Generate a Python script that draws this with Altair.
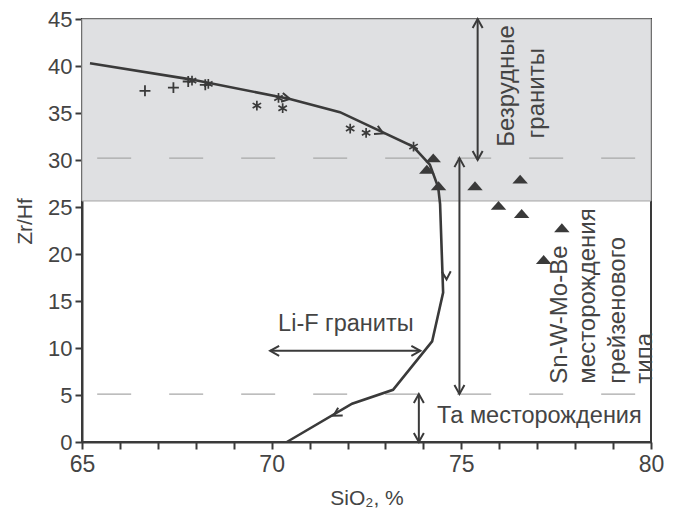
import math
import altair as alt
import pandas as pd

# ---------------- data ----------------
curve_sio2 = [65.21, 67.86, 70.48, 71.80, 73.73, 74.17, 74.39, 74.44, 74.52, 74.23, 73.20, 72.12, 70.40]
curve_zrhf = [40.30, 38.58, 36.50, 35.09, 31.43, 29.51, 27.10, 25.30, 15.90, 10.70, 5.55, 4.08, 0.00]

plus_sio2 = [66.66, 67.41, 67.80, 68.25]
plus_zrhf = [37.36, 37.70, 38.35, 38.00]

star_sio2 = [67.90, 68.33, 69.61, 70.18, 70.29, 72.07, 72.49, 73.74]
star_zrhf = [38.45, 38.10, 35.79, 36.60, 35.51, 33.35, 32.89, 31.43]

tri_sio2 = [74.26, 74.09, 74.40, 75.36, 76.55, 75.98, 76.59, 77.65, 77.17]
tri_zrhf = [30.21, 28.99, 27.24, 27.24, 27.94, 25.15, 24.28, 22.78, 19.39]

chev_sio2 = [70.48, 72.94, 74.61, 71.63]
chev_zrhf = [36.50, 32.83, 17.30, 2.80]

varrow_sio2 = [75.43, 74.95, 73.88]
varrow_top = [45.0, 30.2, 5.1]
varrow_bottom = [30.0, 5.1, 0.0]
harrow_zrhf = [9.7]
harrow_left = [69.96]
harrow_right = [73.92]

shade_bottom = 25.64
dash_levels = [30.2, 5.1]

labels_text = ["Безрудные", "граниты", "Sn-W-Mo-Be", "месторождения", "грейзенового", "типа"]
labels_sio2 = [76.20, 77.00, 77.60, 78.35, 79.12, 79.84]
labels_zrhf = [31.40, 32.30, 6.20, 6.20, 6.20, 6.20]

htext = ["Li-F граниты", "Та месторождения"]
htext_sio2 = [70.17, 74.36]
htext_zrhf = [12.56, 2.77]

x_ticks = list(range(65, 81))
y_ticks = list(range(0, 46, 5))
X_DOM = [65, 80]
Y_DOM = [0, 45]

# ---------------- layout ----------------
W, H = 569, 423
TOP = 11
FONT = "Liberation Sans"
INK = "#3a3a3a"
TXT = "#444444"

xs = alt.Scale(domain=X_DOM, nice=False, zero=False)
ys = alt.Scale(domain=Y_DOM, nice=False, zero=False)

x_axis = alt.Axis(values=x_ticks, labelExpr="datum.value % 5 == 0 ? datum.label : ''",
                  grid=False, tickSize=7, tickWidth=2, tickColor=INK,
                  domainColor=INK, domainWidth=2, labelFontSize=23, labelFont=FONT,
                  labelColor=TXT, labelPadding=4, labelFlush=False,
                  titleFont=FONT, titleFontSize=21, titleFontWeight="normal",
                  titleColor=TXT, titleY=56, titleBaseline="middle")
y_axis = alt.Axis(values=y_ticks, grid=False, tickSize=7, tickWidth=2, tickColor=INK,
                  domainColor=INK, domainWidth=2, labelFontSize=22, labelFont=FONT,
                  labelColor=TXT, labelPadding=3,
                  titleFont=FONT, titleFontSize=21, titleFontWeight="normal",
                  titleColor=TXT, titleAngle=270, titleX=-57, titleY=202,
                  titleBaseline="middle", titleAlign="center")

CHEV = "M-1,1.8L0,0L1,1.8"
PLUS = "M-1,0L1,0M0,-1L0,1"
STAR = "M0,-1L0,1M-0.87,-0.5L0.87,0.5M-0.87,0.5L0.87,-0.5"
TRI = "M-1,0.55L1,0.55L0,-0.6Z"

def X(f="sio2"):
    return alt.X(f"{f}:Q", scale=xs, axis=x_axis, title="SiO₂, %")

def Y(f="zrhf"):
    return alt.Y(f"{f}:Q", scale=ys, axis=y_axis, title="Zr/Hf")

# background shaded band
shade = alt.Chart(pd.DataFrame({"a": [X_DOM[0]], "b": [X_DOM[1]],
                                "zrhf": [shade_bottom], "top": [Y_DOM[1]]})).mark_rect(
    color="#dfe0e2", stroke="#a5a5a5", strokeWidth=1
).encode(x=X("a"), x2="b:Q", y=Y(), y2="top:Q")

dashes = alt.Chart(pd.DataFrame({"zrhf": dash_levels, "a": [65.4, 65.4], "b": [79.9, 79.9]})).mark_rule(
    color="#a8a8a8", strokeWidth=1.3, strokeDash=[34, 38]
).encode(x=X("a"), x2="b:Q", y=Y())

curve_df = pd.DataFrame({"sio2": curve_sio2, "zrhf": curve_zrhf, "o": range(len(curve_sio2))})
curve = alt.Chart(curve_df).mark_line(color=INK, strokeWidth=2.6).encode(
    x=X(), y=Y(), order="o:Q")

# chevron direction along the curve
px_x = W / (X_DOM[1] - X_DOM[0])
px_y = H / (Y_DOM[1] - Y_DOM[0])

def seg_angle(sx, sy):
    best, ang = 1e9, 0
    for i in range(len(curve_sio2) - 1):
        x0, y0 = curve_sio2[i] * px_x, -curve_zrhf[i] * px_y
        x1, y1 = curve_sio2[i + 1] * px_x, -curve_zrhf[i + 1] * px_y
        px, py = sx * px_x, -sy * px_y
        dx, dy = x1 - x0, y1 - y0
        t = max(0, min(1, ((px - x0) * dx + (py - y0) * dy) / (dx * dx + dy * dy)))
        d = math.hypot(x0 + t * dx - px, y0 + t * dy - py)
        if d < best:
            best = d
            ang = (math.degrees(math.atan2(dy, dx)) + 90) % 360
    return ang

chev_df = pd.DataFrame({"sio2": chev_sio2, "zrhf": chev_zrhf,
                        "ang": [seg_angle(a, b) for a, b in zip(chev_sio2, chev_zrhf)]})
chevrons = alt.Chart(chev_df).mark_point(shape=CHEV, filled=False, color=INK, strokeWidth=2,
                                         size=80, opacity=1).encode(
    x=X(), y=Y(), angle=alt.Angle("ang:Q", scale=None))

plus = alt.Chart(pd.DataFrame({"sio2": plus_sio2, "zrhf": plus_zrhf})).mark_point(
    shape=PLUS, filled=False, color=INK, strokeWidth=1.8, size=120, opacity=1).encode(x=X(), y=Y())
star = alt.Chart(pd.DataFrame({"sio2": star_sio2, "zrhf": star_zrhf})).mark_point(
    shape=STAR, filled=False, color=INK, strokeWidth=1.7, size=95, opacity=1).encode(x=X(), y=Y())
tri = alt.Chart(pd.DataFrame({"sio2": tri_sio2, "zrhf": tri_zrhf})).mark_point(
    shape=TRI, filled=True, color=INK, size=240, opacity=1).encode(x=X(), y=Y())

# arrows
va_df = pd.DataFrame({"sio2": varrow_sio2, "zrhf": varrow_top, "b": varrow_bottom})
va = alt.Chart(va_df).mark_rule(color=INK, strokeWidth=2).encode(x=X(), y=Y(), y2="b:Q")
ha_df = pd.DataFrame({"zrhf": harrow_zrhf, "sio2": harrow_left, "r": harrow_right})
ha = alt.Chart(ha_df).mark_rule(color=INK, strokeWidth=2).encode(x=X(), x2="r:Q", y=Y())

heads_x, heads_y, heads_a = [], [], []
for s, t, b in zip(varrow_sio2, varrow_top, varrow_bottom):
    heads_x += [s, s]; heads_y += [t, b]; heads_a += [0, 180]
for z, l, r in zip(harrow_zrhf, harrow_left, harrow_right):
    heads_x += [l, r]; heads_y += [z, z]; heads_a += [270, 90]
heads = alt.Chart(pd.DataFrame({"sio2": heads_x, "zrhf": heads_y, "ang": heads_a})).mark_point(
    shape=CHEV, filled=False, color=INK, strokeWidth=2, size=100, opacity=1).encode(
    x=X(), y=Y(), angle=alt.Angle("ang:Q", scale=None))

vtext = alt.Chart(pd.DataFrame({"sio2": labels_sio2, "zrhf": labels_zrhf, "t": labels_text})).mark_text(
    angle=270, align="left", baseline="middle", font=FONT, fontSize=24, color=TXT).encode(
    x=X(), y=Y(), text="t:N")
htx = alt.Chart(pd.DataFrame({"sio2": htext_sio2, "zrhf": htext_zrhf, "t": htext})).mark_text(
    align="left", baseline="middle", font=FONT, fontSize=23.5, color=TXT).encode(
    x=X(), y=Y(), text="t:N")

chart = alt.layer(shade, dashes, curve, chevrons, plus, star, tri, va, ha, heads, vtext, htx).properties(
    width=W, height=H,
    autosize=alt.AutoSizeParams(type="none"),
    padding={"left": 74, "top": TOP, "right": 16, "bottom": 70},
    background="white",
).configure_view(stroke=INK, strokeWidth=2)

chart.save("out.html", embed_options={"renderer": "svg", "actions": False})
